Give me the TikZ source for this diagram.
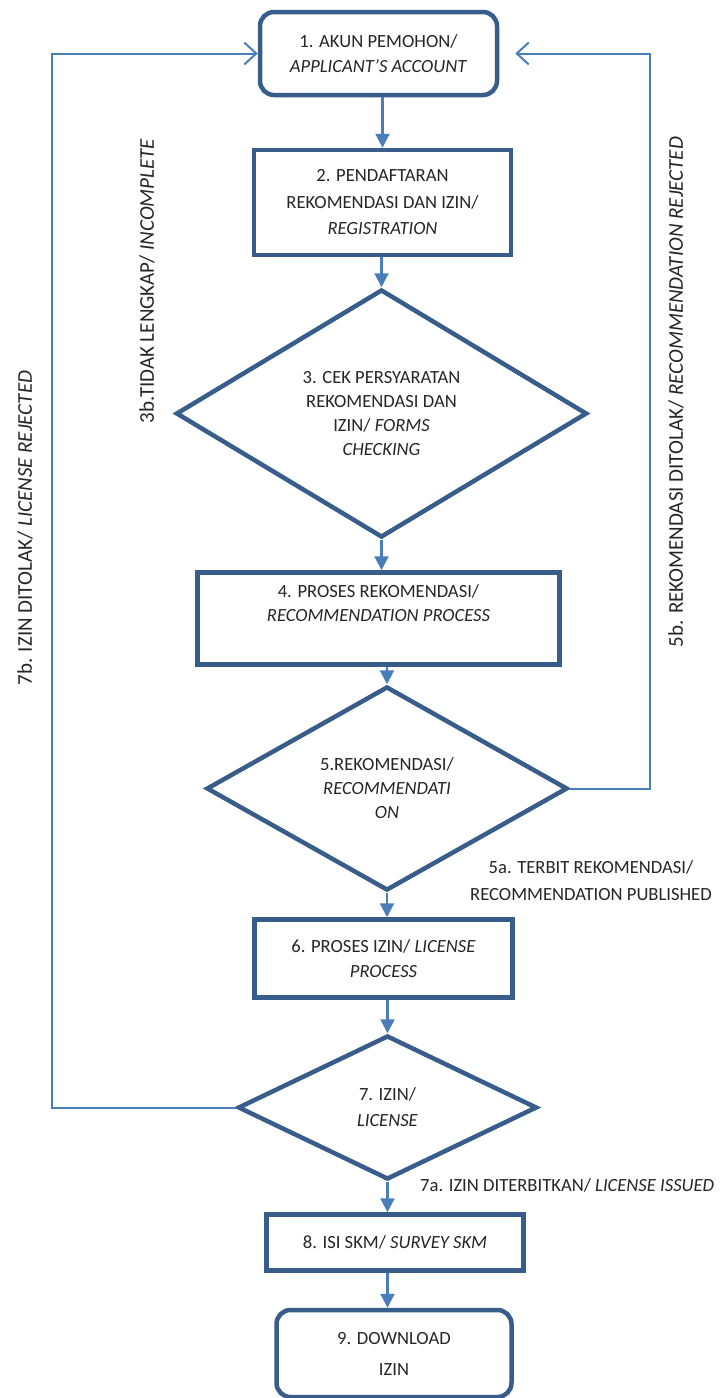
\documentclass[tikz,border=0pt]{standalone}
\usepackage{fontspec}
\setmainfont{Carlito}
\usetikzlibrary{arrows.meta,shapes.geometric}
\definecolor{bord}{RGB}{56,93,138}
\definecolor{conn}{RGB}{74,126,187}
\definecolor{txt}{RGB}{38,38,38}
\begin{document}
\begin{tikzpicture}[x=1pt,y=-1pt,
  txtstyle/.style={text=txt, font=\fontsize{18.6}{24}\selectfont, align=center, inner sep=0pt},
  boxnode/.style={txtstyle, draw=bord, line width=4.5pt, rectangle},
  roundnode/.style={boxnode, rounded corners=14pt},
  decision/.style={txtstyle, draw=bord, line width=4.5pt, diamond},
  flow/.style={draw=conn, line width=2.2pt, -{Triangle[length=14pt,width=14pt]}},
  back/.style={draw=conn, line width=2pt, -{Straight Barb[length=12pt,width=22pt]}},
  lbl/.style={text=txt, font=\fontsize{18.6}{27}\selectfont, align=center, inner sep=0pt},
  vlbl/.style={text=txt, font=\fontsize{21}{25}\selectfont, rotate=90, inner sep=0pt}
]
\useasboundingbox (0,0) rectangle (723,1398);
\fill[white] (0,0) rectangle (723,1398);

% nodes
\node[roundnode, minimum width=237pt, minimum height=83pt, font=\fontsize{18.6}{25}\selectfont] (n1) at (378.5,53.5)
  {1. AKUN PEMOHON/\\\textit{APPLICANT’S ACCOUNT}};
\node[boxnode, minimum width=257pt, minimum height=105pt, font=\fontsize{18.6}{26.5}\selectfont] (n2) at (382.5,202.5)
  {2. PENDAFTARAN\\REKOMENDASI DAN IZIN/\\\textit{REGISTRATION}};
\node[decision, minimum width=411pt, minimum height=248pt, shape aspect=1.66] (d3) at (381.5,413.5)
  {3. CEK PERSYARATAN\\REKOMENDASI DAN\\IZIN/ \textit{FORMS}\\\textit{CHECKING}};
\node[boxnode, minimum width=362pt, minimum height=92pt] (n4) at (378.5,618.5)
  {4. PROSES REKOMENDASI/\\\textit{RECOMMENDATION PROCESS}\\\strut};
\node[decision, minimum width=361pt, minimum height=204pt, shape aspect=1.77] (d5) at (387,788.5)
  {5.REKOMENDASI/\\\textit{RECOMMENDATI}\\\textit{ON}};
\node[boxnode, minimum width=258pt, minimum height=78pt, font=\fontsize{18.6}{25}\selectfont] (n6) at (383.5,958.5)
  {6. PROSES IZIN/ \textit{LICENSE}\\\textit{PROCESS}};
\node[decision, minimum width=299pt, minimum height=144pt, shape aspect=2, font=\fontsize{18.6}{26}\selectfont] (d7) at (387.5,1107.5)
  {7. IZIN/\\\textit{LICENSE}};
\node[boxnode, minimum width=257pt, minimum height=56pt] (n8) at (395,1242.5)
  {8. ISI SKM/ \textit{SURVEY SKM}};
\node[roundnode, minimum width=235pt, minimum height=87pt, font=\fontsize{18.6}{31}\selectfont] (n9) at (394,1353.5)
  {9. DOWNLOAD\\IZIN};

% labels
\node[lbl] (l5a) at (591,881) {5a. TERBIT REKOMENDASI/\\RECOMMENDATION PUBLISHED};
\node[lbl, anchor=west] (l7a) at (420,1185) {7a. IZIN DITERBITKAN/ \textit{LICENSE ISSUED}};
\node[vlbl] (l7b) at (25,528) {7b. IZIN DITOLAK/ \textit{LICENSE REJECTED}};
\node[vlbl] (l3b) at (147,281) {3b.TIDAK LENGKAP/ \textit{INCOMPLETE}};
\node[vlbl] (l5b) at (676,392) {5b. REKOMENDASI DITOLAK/ \textit{RECOMMENDATION REJECTED}};

% main flow
\draw[flow] (n2.north |- n1.south) -- (n2.north);
\draw[flow] (d3.north |- n2.south) -- (d3.north);
\draw[flow] (d3.south) -- (d3.south |- n4.north);
\draw[flow] (d5.north |- n4.south) -- (d5.north);
\draw[flow] (d5.south) -- (d5.south |- n6.north);
\draw[flow] (d7.north |- n6.south) -- (d7.north);
\draw[flow] (d7.south) -- (d7.south |- n8.north);
\draw[flow] (d7.south |- n8.south) -- (d7.south |- n9.north);

% feedback loops
\coordinate (lx) at (52,0);
\coordinate (rx) at (650,0);
\draw[back] (d7.west) -- (d7.west -| lx) -- (lx |- n1.west) -- (n1.west);
\draw[back, shorten >=16pt] (d5.east) -- (d5.east -| rx) -- (rx |- n1.east) -- (n1.east);
\end{tikzpicture}
\end{document}
